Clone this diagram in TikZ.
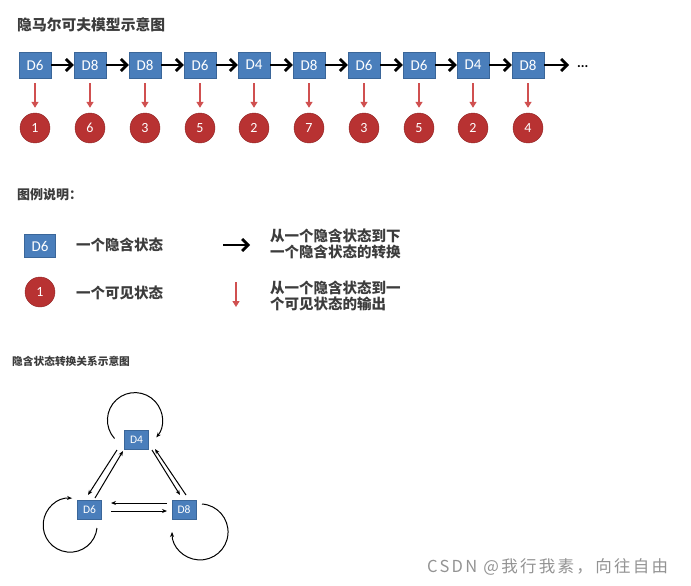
\documentclass[tikz,border=0pt]{standalone}
\usepackage{fontspec}
\setmainfont{Carlito}
\newfontfamily\cjk{Noto Sans CJK SC}
\newfontfamily\markfont{Noto Sans CJK SC}[LetterSpace=14]
\usetikzlibrary{arrows.meta,positioning,calc}
\definecolor{Hid}{HTML}{4A7EBB}
\definecolor{HidEdge}{HTML}{3A6699}
\definecolor{Obs}{HTML}{B83232}
\definecolor{ObsEdge}{HTML}{8E2424}
\definecolor{Emit}{HTML}{D05050}
\definecolor{Ink}{HTML}{3C3C3C}

\begin{document}
\begin{tikzpicture}[x=1pt,y=-1pt,
    hid/.style={draw=HidEdge,fill=Hid,text=white,minimum width=32pt,minimum height=26pt,
      inner sep=0pt,font=\fontsize{15}{15}\selectfont},
    obs/.style={circle,draw=ObsEdge,fill=Obs,text=white,minimum size=30pt,inner sep=0pt,
      font=\fontsize{14}{14}\selectfont},
    small/.style={hid,minimum width=24pt,minimum height=19pt,font=\fontsize{11.5}{11.5}\selectfont},
    move/.style={-{Straight Barb[length=6pt,width=12pt]},line width=2.8pt},
    emit/.style={-{Triangle[length=6pt,width=7pt]},Emit,line width=1.3pt},
    trans/.style={-{Stealth[length=5pt,width=4pt]},line width=1pt},
    lbl/.style={font=\cjk\bfseries\fontsize{14.5}{16}\selectfont,text=Ink,align=left,
      inner sep=0pt,anchor=west}]
  \useasboundingbox (0,0) rectangle (691,586);

  % chain of hidden states and what they emit
  \node[lbl,font=\cjk\bfseries\fontsize{14.8}{16}\selectfont] (title) at (17,25) {隐马尔可夫模型示意图};
  \foreach \i/\x/\d/\n in {1/35/6/1,2/90/8/6,3/145/8/3,4/200/6/5,5/254/4/2,
      6/309/8/7,7/364/6/3,8/419/6/5,9/473/4/2,10/528/8/4}{
    \node[hid] (h\i) at (\x,65) {D\d};
    \node[obs] (o\i) at (\x,128) {\n};
    \draw[emit,shorten <=5pt,shorten >=5pt] (h\i) -- (o\i);
  }
  \foreach \u/\v in {1/2,2/3,3/4,4/5,5/6,6/7,7/8,8/9,9/10}\draw[move] (h\u) -- (h\v);
  \coordinate (more) at (569,65);
  \draw[move] (h10) -- (more);
  \node[anchor=west,inner sep=0pt,font=\bfseries\fontsize{14}{14}\selectfont] (dots) at (577,67) {...};

  % legend
  \node[lbl,font=\cjk\bfseries\fontsize{13}{14}\selectfont] (legend) at (17,195) {图例说明：};
  \node[hid,minimum width=31pt,minimum height=23pt] (kh) at (40,246) {D6};
  \node[lbl] (khtxt) at (76,245) {一个隐含状态};
  \coordinate (ka) at (223,245);
  \coordinate (kb) at (250,245);
  \draw[move] (ka) -- (kb);
  \node[lbl] (kmove) at (270,244) {从一个隐含状态到下\\一个隐含状态的转换};
  \node[obs] (ko) at (40,292) {1};
  \node[lbl] (kotxt) at (76,293) {一个可见状态};
  \coordinate (kc) at (236,282);
  \coordinate (kd) at (236,307);
  \draw[emit] (kc) -- (kd);
  \node[lbl] (kemit) at (270,296) {从一个隐含状态到一\\个可见状态的输出};

  % transitions between hidden states
  \node[lbl,font=\cjk\bfseries\fontsize{10.7}{12}\selectfont] (sub) at (12,361) {隐含状态转换关系示意图};
  \node[small] (d4) at (136.5,439.5) {D4};
  \node[small] (d6) at (89.5,509.5) {D6};
  \node[small] (d8) at (184,509.5) {D8};
  \draw[trans] ([shift={(-19.5,10.5)}]d4.center) -- ([shift={(-1.5,-14.5)}]d6.center);
  \draw[trans] ([shift={(5.5,-11.5)}]d6.center) -- ([shift={(-13.5,11.5)}]d4.center);
  \draw[trans] ([shift={(15.5,10.5)}]d4.center) -- ([shift={(-4,-14.5)}]d8.center);
  \draw[trans] ([shift={(2,-14.5)}]d8.center) -- ([shift={(18.5,9.5)}]d4.center);
  \draw[trans] ([shift={(-17,-6.5)}]d8.center) -- ([shift={(21.5,-6.5)}]d6.center);
  \draw[trans] ([shift={(21.5,1.5)}]d6.center) -- ([shift={(-17,1.5)}]d8.center);
  \draw[trans] ([shift={(-22,-1)}]d4.center) arc[start angle=138,end angle=399,radius=27.5];
  \draw[trans] ([shift={(7.5,18.5)}]d6.center) arc[start angle=6,end angle=274,radius=27];
  \draw[trans] ([shift={(18,-5.5)}]d8.center) arc[start angle=274,end angle=540,radius=28];

  \node[anchor=west,inner sep=0pt,font=\markfont\fontsize{16.5}{17}\selectfont,text=gray!85] (mark)
    at (427,567) {CSDN @我行我素，向往自由};
\end{tikzpicture}
\end{document}
